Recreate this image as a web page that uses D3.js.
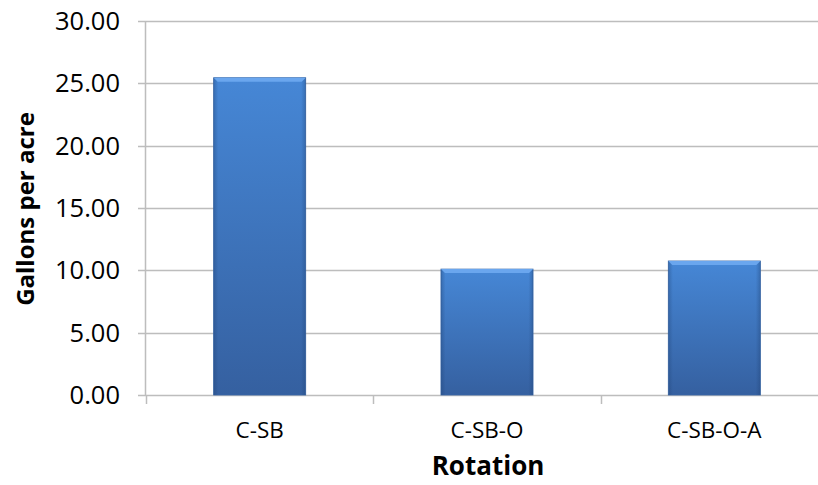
<!DOCTYPE html>
<html>
<head>
<meta charset="utf-8">
<script src="https://cdn.jsdelivr.net/npm/d3@7"></script>
<style>
  body { margin: 0; background: #fff; }
  svg { display: block; font-family: "Open Sans", Lato, sans-serif; }
</style>
</head>
<body>
<svg id="chart" width="818" height="485"></svg>
<script>
var categories = ["C-SB", "C-SB-O", "C-SB-O-A"];
var values = [25.45, 10.1, 10.75];
var yTicks = [0, 5, 10, 15, 20, 25, 30];

var svg = d3.select("#chart"),
  margin = {left: 146, right: -10, top: 21, bottom: 90},
  width = +svg.attr("width"),
  height = +svg.attr("height");

var x = d3.scaleBand()
  .domain(categories)
  .range([margin.left, width - margin.right])
  .padding(0);

var y = d3.scaleLinear()
  .domain([0, 30])
  .range([height - margin.bottom, margin.top]);

var barW = x.bandwidth() * 0.405;

// gradients for the bevelled bars
var defs = svg.append("defs");
var vg = defs.append("linearGradient").attr("id", "barFill")
  .attr("x1", 0).attr("y1", 0).attr("x2", 0).attr("y2", 1);
vg.append("stop").attr("offset", "0%").attr("stop-color", "#4687d6");
vg.append("stop").attr("offset", "100%").attr("stop-color", "#3560a0");

var hg = defs.append("linearGradient").attr("id", "barSides")
  .attr("x1", 0).attr("y1", 0).attr("x2", 1).attr("y2", 0);
hg.append("stop").attr("offset", "0%").attr("stop-color", "#1d3f70").attr("stop-opacity", 0.35);
hg.append("stop").attr("offset", "5%").attr("stop-color", "#1d3f70").attr("stop-opacity", 0);
hg.append("stop").attr("offset", "95%").attr("stop-color", "#1d3f70").attr("stop-opacity", 0);
hg.append("stop").attr("offset", "100%").attr("stop-color", "#1d3f70").attr("stop-opacity", 0.35);

// gridlines
svg.append("g")
  .selectAll("line")
  .data(yTicks)
  .enter().append("line")
  .attr("x1", margin.left - 8)
  .attr("x2", width)
  .attr("y1", function(d) { return Math.round(y(d)) + 0.5; })
  .attr("y2", function(d) { return Math.round(y(d)) + 0.5; })
  .attr("stroke", "#bdbdbd")
  .attr("stroke-width", 1.5);

// y axis line
svg.append("line")
  .attr("x1", margin.left - 0.5).attr("x2", margin.left - 0.5)
  .attr("y1", y(30)).attr("y2", y(0))
  .attr("stroke", "#bdbdbd").attr("stroke-width", 1.5);

// category tick marks
var xt = categories.map(function(c) { return x(c); });
xt.push(x(categories[categories.length - 1]) + x.bandwidth());
svg.append("g")
  .selectAll("line")
  .data(xt)
  .enter().append("line")
  .attr("x1", function(d) { return Math.round(d) + 0.5; })
  .attr("x2", function(d) { return Math.round(d) + 0.5; })
  .attr("y1", y(0))
  .attr("y2", y(0) + 9)
  .attr("stroke", "#bdbdbd")
  .attr("stroke-width", 1.5);

// bars
var bars = svg.append("g")
  .selectAll("g")
  .data(values)
  .enter().append("g");

bars.append("rect")
  .attr("x", function(d, i) { return x(categories[i]) + (x.bandwidth() - barW) / 2; })
  .attr("y", function(d) { return y(d); })
  .attr("width", barW)
  .attr("height", function(d) { return y(0) - y(d); })
  .attr("fill", "url(#barFill)")
  .attr("stroke", "#3a68a8")
  .attr("stroke-width", 0.8);

bars.append("rect")
  .attr("x", function(d, i) { return x(categories[i]) + (x.bandwidth() - barW) / 2; })
  .attr("y", function(d) { return y(d); })
  .attr("width", barW)
  .attr("height", function(d) { return y(0) - y(d); })
  .attr("fill", "url(#barSides)");

// top highlight bevel
bars.append("path")
  .attr("d", function(d, i) {
    var x0 = x(categories[i]) + (x.bandwidth() - barW) / 2,
      x1 = x0 + barW,
      y0 = y(d);
    return "M" + x0 + "," + y0 + "L" + x1 + "," + y0 + "L" + (x1 - 4) + "," + (y0 + 4) + "L" + (x0 + 4) + "," + (y0 + 4) + "Z";
  })
  .attr("fill", "#6aa6ee");

// y tick labels
svg.append("g")
  .selectAll("text")
  .data(yTicks)
  .enter().append("text")
  .attr("x", margin.left - 26)
  .attr("y", function(d) { return y(d); })
  .attr("dy", "0.35em")
  .attr("text-anchor", "end")
  .attr("font-size", 25.5)
  .attr("fill", "#000")
  .text(function(d) { return d3.format(".2f")(d); });

// category labels
svg.append("g")
  .selectAll("text")
  .data(categories)
  .enter().append("text")
  .attr("x", function(d) { return x(d) + x.bandwidth() / 2; })
  .attr("y", y(0) + 35)
  .attr("dy", "0.35em")
  .attr("text-anchor", "middle")
  .attr("font-size", 22.5)
  .text(function(d) { return d; });

// axis titles
svg.append("text")
  .attr("x", 488)
  .attr("y", 475)
  .attr("text-anchor", "middle")
  .attr("font-size", 26)
  .attr("font-weight", "bold")
  .text("Rotation");

svg.append("text")
  .attr("transform", "translate(34," + 209 + ") rotate(-90)")
  .attr("text-anchor", "middle")
  .attr("font-size", 24)
  .attr("font-weight", "bold")
  .text("Gallons per acre");
</script>
</body>
</html>
